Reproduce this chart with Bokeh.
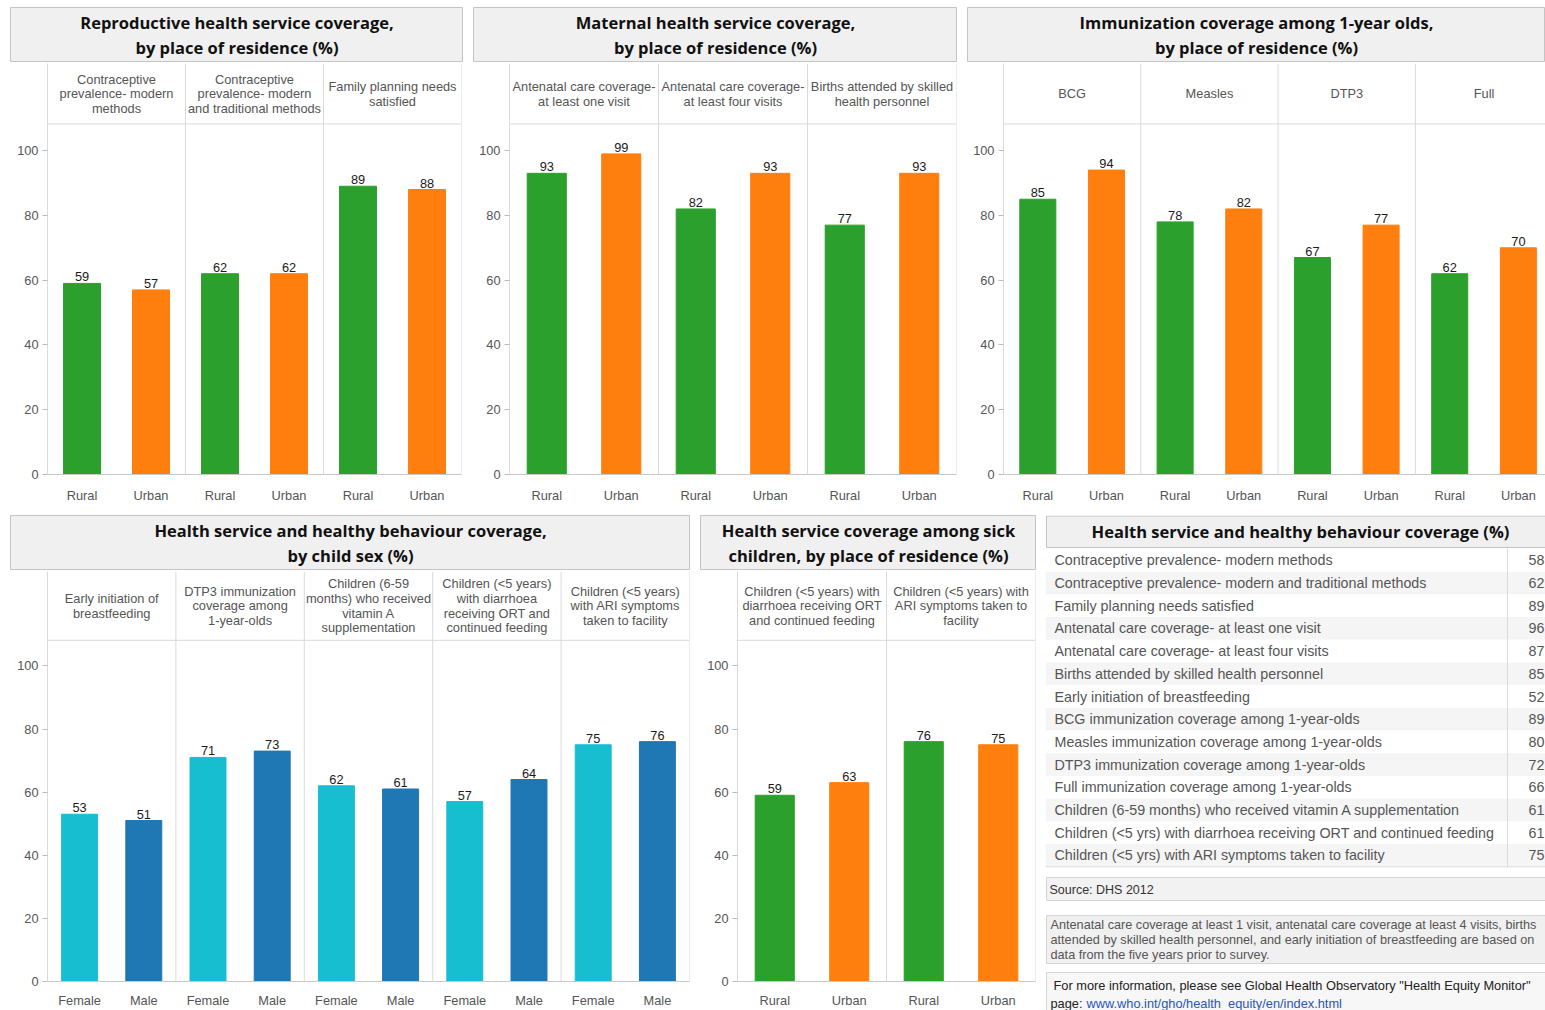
from bokeh.plotting import figure
from bokeh.models import Range1d, FixedTicker, Span, Spacer
from bokeh.layouts import row, column
from bokeh.embed import file_html
from bokeh.resources import INLINE
from bokeh.core.properties import value

# ---------------- data ----------------
rep_title = "Reproductive health service coverage,\nby place of residence (%)"
rep_groups = ["Contraceptive\nprevalence- modern\nmethods",
              "Contraceptive\nprevalence- modern\nand traditional methods",
              "Family planning needs\nsatisfied"]
rep_rural = [59, 62, 89]
rep_urban = [57, 62, 88]

mat_title = "Maternal health service coverage,\nby place of residence (%)"
mat_groups = ["Antenatal care coverage-\nat least one visit",
              "Antenatal care coverage-\nat least four visits",
              "Births attended by skilled\nhealth personnel"]
mat_rural = [93, 82, 77]
mat_urban = [99, 93, 93]

imm_title = "Immunization coverage among 1-year olds,\nby place of residence (%)"
imm_groups = ["BCG", "Measles", "DTP3", "Full"]
imm_rural = [85, 78, 67, 62]
imm_urban = [94, 82, 77, 70]

sex_title = "Health service and healthy behaviour coverage,\nby child sex (%)"
sex_groups = ["Early initiation of\nbreastfeeding",
              "DTP3 immunization\ncoverage among\n1-year-olds",
              "Children (6-59\nmonths) who received\nvitamin A\nsupplementation",
              "Children (<5 years)\nwith diarrhoea\nreceiving ORT and\ncontinued feeding",
              "Children (<5 years)\nwith ARI symptoms\ntaken to facility"]
sex_female = [53, 71, 62, 57, 75]
sex_male = [51, 73, 61, 64, 76]

sick_title = "Health service coverage among sick\nchildren, by place of residence (%)"
sick_groups = ["Children (<5 years) with\ndiarrhoea receiving ORT\nand continued feeding",
               "Children (<5 years) with\nARI symptoms taken to\nfacility"]
sick_rural = [59, 76]
sick_urban = [63, 75]

table_title = "Health service and healthy behaviour coverage (%)"
table_labels = ["Contraceptive prevalence- modern methods",
                "Contraceptive prevalence- modern and traditional methods",
                "Family planning needs satisfied",
                "Antenatal care coverage- at least one visit",
                "Antenatal care coverage- at least four visits",
                "Births attended by skilled health personnel",
                "Early initiation of breastfeeding",
                "BCG immunization coverage among 1-year-olds",
                "Measles immunization coverage among 1-year-olds",
                "DTP3 immunization coverage among 1-year-olds",
                "Full immunization coverage among 1-year-olds",
                "Children (6-59 months) who received vitamin A  supplementation",
                "Children (<5 yrs) with diarrhoea receiving ORT and continued feeding",
                "Children (<5 yrs) with ARI symptoms taken to facility"]
table_values = [58, 62, 89, 96, 87, 85, 52, 89, 80, 72, 66, 61, 61, 75]

source_text = "Source: DHS 2012"
note_lines = ["Antenatal care coverage at least 1 visit, antenatal care coverage at least 4 visits, births",
              "attended by skilled health personnel, and early initiation of breastfeeding are based on",
              "data from the five years prior to survey."]
info_line = "For more information, please see Global Health Observatory \"Health Equity Monitor\""
info_prefix = "page:"
info_link = "www.who.int/gho/health_equity/en/index.html"

# ---------------- style ----------------
GREEN, ORANGE, CYAN, BLUE = "#2ca02c", "#ff7f0e", "#17becf", "#1f77b4"
HFONT = "Open Sans"
SFONT = "Liberation Sans"
LINE = "#dadada"
GRAYTXT = "#555555"
HSIZE = 16.5
SSIZE = 12.8


def header(title, w, h=55):
    p = figure(width=w, height=h, x_range=Range1d(0, 1), y_range=Range1d(0, 1),
               toolbar_location=None, output_backend="svg",
               x_axis_location=None, y_axis_location=None, min_border=0,
               background_fill_color="#f0f0f0", outline_line_color="#c4c4c4")
    p.frame_align = False
    p.grid.visible = False
    p.text(x=[0.5], y=[0.5], text=[title], text_align="center", text_baseline="middle",
           text_font=value(HFONT), text_font_style="bold", text_font_size=f"{HSIZE}px",
           text_line_height=24 / (HSIZE * 1.362), text_color="#111111")
    return p


def body(groups, a_vals, b_vals, a_lab, b_lab, ca, cb, w, h, left, right, bottom,
         px_per_unit, sep_px, bw, standoff, xend=None):
    n = len(groups)
    frame_h = h - 1 - bottom
    yend = frame_h / px_per_unit
    ysep = sep_px / px_per_unit
    xa = [4 * i + 1 for i in range(n)]
    xb = [4 * i + 3 for i in range(n)]
    full = xend is None
    if full:
        xend = 4 * n
    p = figure(width=w, height=h, x_range=Range1d(0, xend), y_range=Range1d(0, yend),
               toolbar_location=None, output_backend="svg",
               min_border_left=left, min_border_right=right, min_border_top=1,
               min_border_bottom=bottom, outline_line_color=None)
    p.frame_align = False
    p.grid.visible = False
    p.vbar(x=xa, top=a_vals, width=bw, color=ca)
    p.vbar(x=xb, top=b_vals, width=bw, color=cb)
    p.text(x=xa + xb, y=a_vals + b_vals, text=[str(v) for v in a_vals + b_vals],
           text_align="center", text_baseline="bottom", y_offset=-2,
           text_font=value(SFONT), text_font_size="12.8px", text_color="#1a1a1a")
    p.text(x=[4 * i + 2 for i in range(n)], y=[(ysep + yend) / 2] * n, text=groups,
           text_align="center", text_baseline="middle",
           text_line_height=14 / (SSIZE * 1.117),
           text_font=value(SFONT), text_font_size=f"{SSIZE}px", text_color=GRAYTXT)
    p.add_layout(Span(location=ysep, dimension="width", line_color=LINE, line_width=1))
    for i in range(1, n + (1 if full else 0)):
        p.add_layout(Span(location=4 * i, dimension="height", line_color=LINE, line_width=1))

    ax = p.xaxis[0]
    ax.ticker = FixedTicker(ticks=sorted(xa + xb))
    ov = {x: a_lab for x in xa}
    ov.update({x: b_lab for x in xb})
    ax.major_label_overrides = ov
    ax.major_tick_line_color = None
    ax.minor_tick_line_color = None
    ax.axis_line_color = "#c8c8c8"
    ax.major_label_standoff = standoff
    ax.major_label_text_font = SFONT
    ax.major_label_text_font_size = f"{SSIZE}px"
    ax.major_label_text_color = GRAYTXT

    ay = p.yaxis[0]
    ay.ticker = FixedTicker(ticks=[0, 20, 40, 60, 80, 100])
    ay.minor_tick_line_color = None
    ay.major_tick_out = 5
    ay.major_tick_in = 0
    ay.major_tick_line_color = "#bbbbbb"
    ay.axis_line_color = LINE
    ay.major_label_standoff = 4
    ay.major_label_text_font = SFONT
    ay.major_label_text_font_size = f"{SSIZE}px"
    ay.major_label_text_color = GRAYTXT
    return p


def table_panel(w=500, h=495):
    p = figure(width=w, height=h, x_range=Range1d(0, w), y_range=Range1d(h, 0),
               toolbar_location=None, output_backend="svg",
               x_axis_location=None, y_axis_location=None, min_border=0,
               outline_line_color=None)
    p.frame_align = False
    p.grid.visible = False
    # header box
    p.quad(left=[1], right=[w + 8], top=[0.5], bottom=[32], fill_color="#f0f0f0",
           line_color="#c4c4c4")
    p.text(x=[255], y=[16], text=[table_title], text_align="center", text_baseline="middle",
           text_font=value(HFONT), text_font_style="bold", text_font_size=f"{HSIZE}px",
           text_color="#111111")
    n = len(table_labels)
    rh, top0 = 22.7, 33.5
    tops = [top0 + i * rh for i in range(n)]
    bots = [t + rh for t in tops]
    mids = [t + rh / 2 for t in tops]
    p.quad(left=[0] * n, right=[w] * n, top=tops, bottom=bots,
           fill_color=["#ffffff" if i % 2 == 0 else "#f5f5f5" for i in range(n)],
           line_color=None)
    p.text(x=[9] * n, y=mids, text=table_labels, text_baseline="middle",
           text_font=value(SFONT), text_font_size="14.3px", text_color=GRAYTXT)
    p.text(x=[w - 1] * n, y=mids, text=[str(v) for v in table_values], text_baseline="middle",
           text_align="right",
           text_font=value(SFONT), text_font_size="14.3px", text_color=GRAYTXT)
    p.segment(x0=[462], y0=[top0], x1=[462], y1=[bots[-1]], line_color=LINE)
    p.segment(x0=[0], y0=[bots[-1]], x1=[w], y1=[bots[-1]], line_color=LINE)
    # source box
    p.quad(left=[1], right=[w + 8], top=[362], bottom=[385], fill_color="#f2f2f2",
           line_color="#d4d4d4")
    p.text(x=[4], y=[374], text=[source_text], text_baseline="middle",
           text_font=value(SFONT), text_font_size="12.5px", text_color="#333333")
    # note box
    p.quad(left=[1], right=[w + 8], top=[400], bottom=[448], fill_color="#f0f0f0",
           line_color="#d4d4d4")
    p.text(x=[5] * 3, y=[409.5, 424.5, 439.5], text=note_lines, text_baseline="middle",
           text_font=value(SFONT), text_font_size="12.7px", text_color=GRAYTXT)
    # info box
    p.quad(left=[1], right=[w + 8], top=[457], bottom=[h + 8], fill_color="#f7f7f7",
           line_color="#d4d4d4")
    p.text(x=[8], y=[470], text=[info_line], text_baseline="middle",
           text_font=value(SFONT), text_font_size="12.8px", text_color="#222222")
    p.text(x=[5], y=[488], text=[info_prefix], text_baseline="middle",
           text_font=value(SFONT), text_font_size="12.8px", text_color="#222222")
    p.text(x=[41], y=[488], text=[info_link], text_baseline="middle",
           text_font=value(SFONT), text_font_size="12.8px", text_color="#2a55b8")
    p.segment(x0=[41], y0=[495], x1=[307], y1=[495], line_color="#2a55b8")
    return p


# ---------------- panels ----------------
p1 = column(header(rep_title, 453),
            body(rep_groups, rep_rural, rep_urban, "Rural", "Urban", GREEN, ORANGE,
                 453, 443, 37, 2, 27, 3.27, 354, 1.07, 7), spacing=0)
p2 = column(header(mat_title, 484),
            body(mat_groups, mat_rural, mat_urban, "Rural", "Urban", GREEN, ORANGE,
                 484, 443, 36, 1, 27, 3.27, 354, 1.05, 7), spacing=0)
p3 = column(header(imm_title, 578),
            body(imm_groups, imm_rural, imm_urban, "Rural", "Urban", GREEN, ORANGE,
                 578, 443, 36, 0, 27, 3.27, 354, 1.05, 7, xend=542 / 137.3 * 4), spacing=0)
p4 = column(header(sex_title, 680),
            body(sex_groups, sex_female, sex_male, "Female", "Male", CYAN, BLUE,
                 680, 440, 37, 1, 22, 3.21, 347, 1.12, 5), spacing=0)
p5 = column(header(sick_title, 336),
            body(sick_groups, sick_rural, sick_urban, "Rural", "Urban", GREEN, ORANGE,
                 336, 440, 37, 1, 22, 3.21, 347, 1.05, 5), spacing=0)
p6 = table_panel()

top_row = row(Spacer(width=10, height=1), p1, Spacer(width=10, height=1), p2,
              Spacer(width=10, height=1), p3, spacing=0)
bottom_row = row(Spacer(width=10, height=1), p4, Spacer(width=10, height=1), p5,
                 Spacer(width=9, height=1), p6, spacing=0)
layout = column(Spacer(width=1, height=7), top_row, Spacer(width=1, height=10), bottom_row,
                spacing=0)

open("out.html", "w").write(file_html(layout, INLINE))
